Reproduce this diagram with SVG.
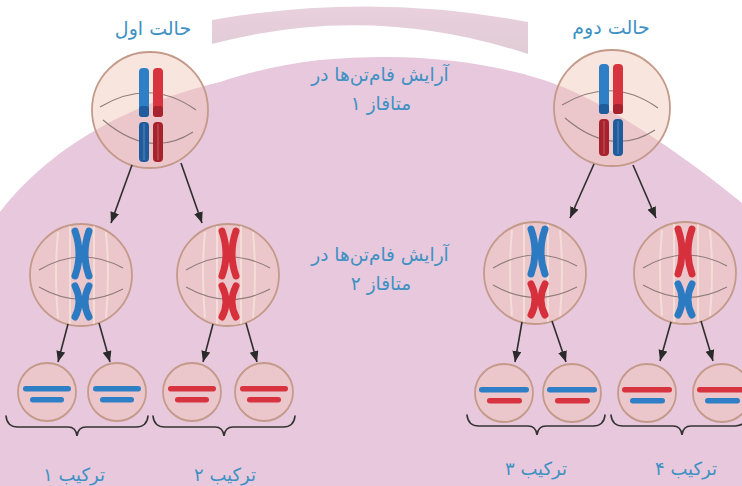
<svg xmlns="http://www.w3.org/2000/svg" width="742" height="486" viewBox="0 0 742 486">
  <style>
    .cell { fill: #f0c6b6; fill-opacity: 0.45; stroke: #c39a8a; stroke-width: 1.8; }
    .spindle { fill: none; stroke: #8f7b78; stroke-width: 1.1; }
    .fiber { fill: none; stroke: #fff6e6; stroke-opacity: 0.45; stroke-width: 2; }
    .conn { fill: none; stroke: #2e2e2e; stroke-width: 1.6; marker-end: url(#head); }
    .brace { fill: none; stroke: #333; stroke-width: 1.6; stroke-linecap: round; }
    .txt { font-family: "DejaVu Sans", "Noto Sans", sans-serif; fill: #3e91c3; text-anchor: middle; }
    .title { font-size: 19px; }
    .note { font-size: 18.5px; }
    .lab { font-size: 18px; }
    .b { fill: #2f7fc6; }
    .bd { fill: #1f5c9e; }
    .r { fill: #d8343f; }
    .rd { fill: #a8222e; }
    .xb { fill: none; stroke: #2c7ac2; stroke-width: 7; stroke-linecap: round; }
    .xr { fill: none; stroke: #d6303d; stroke-width: 7; stroke-linecap: round; }
    .hl { stroke: #ffffff; stroke-opacity: 0.35; stroke-width: 0.8; fill: none; }
  </style>
  <defs>
    <marker id="head" markerUnits="userSpaceOnUse" markerWidth="12" markerHeight="10" refX="11" refY="4.5" orient="auto">
      <path d="M0,0 L11,4.5 L0,9 Z" fill="#2a2a2a"/>
    </marker>
    <linearGradient id="band" x1="0" y1="0" x2="0" y2="1">
      <stop offset="0" stop-color="#e6cbd9"/>
      <stop offset="1" stop-color="#ddc6d1"/>
    </linearGradient>
  </defs>

  <!-- backdrop -->
  <rect width="742" height="486" fill="#ffffff"/>
  <path d="M0,212 C40,160 110,108 220,82 C280,62 330,57 385,57 C450,57 520,68 570,90 C620,112 690,160 742,203 L742,486 L0,486 Z" fill="#e8c8dc"/>
  <path d="M212,20 Q370,-8 528,22 L528,54 Q370,2 212,44 Z" fill="url(#band)" opacity="0.9"/>

  <!-- titles -->
  <text class="txt title" x="153" y="35">حالت اول</text>
  <text class="txt title" x="611" y="34">حالت دوم</text>

  <!-- stage notes -->
  <text class="txt note" x="380" y="81">آرایش فام‌تن‌ها در</text>
  <text class="txt note" x="381" y="110">متافاز ۱</text>
  <text class="txt note" x="380" y="261">آرایش فام‌تن‌ها در</text>
  <text class="txt note" x="381" y="290">متافاز ۲</text>

  <!-- metaphase I, case 1 -->
  <g id="m1-case1">
    <circle class="cell" cx="150" cy="110" r="58"/>
    <path class="spindle" d="M100,107 Q150,77 196,110"/>
    <path class="spindle" d="M103,120 Q150,160 193,132"/>
    <rect class="b" x="139" y="68" width="10" height="49" rx="4"/>
    <rect class="bd" x="139" y="106" width="10" height="11" rx="3"/>
    <rect class="r" x="153" y="68" width="10" height="49" rx="4"/>
    <rect class="rd" x="153" y="106" width="10" height="11" rx="3"/>
    <rect class="bd" x="139" y="122" width="10" height="40" rx="4"/>
    <rect class="rd" x="153" y="122" width="10" height="40" rx="4"/>
    <line class="hl" x1="144" y1="124" x2="144" y2="160"/>
    <line class="hl" x1="158" y1="124" x2="158" y2="160"/>
  </g>

  <!-- metaphase I, case 2 -->
  <g id="m1-case2">
    <circle class="cell" cx="612" cy="108" r="58"/>
    <path class="spindle" d="M562,105 Q612,75 658,108"/>
    <path class="spindle" d="M565,118 Q612,158 655,130"/>
    <rect class="b" x="599" y="64" width="10" height="50" rx="4"/>
    <rect class="bd" x="599" y="104" width="10" height="10" rx="3"/>
    <rect class="r" x="613" y="64" width="10" height="50" rx="4"/>
    <rect class="rd" x="613" y="104" width="10" height="10" rx="3"/>
    <rect class="rd" x="599" y="119" width="10" height="37" rx="4"/>
    <rect class="bd" x="613" y="119" width="10" height="37" rx="4"/>
    <line class="hl" x1="604" y1="121" x2="604" y2="154"/>
    <line class="hl" x1="618" y1="121" x2="618" y2="154"/>
  </g>

  <!-- metaphase II cells -->
  <g id="m2-a">
    <circle class="cell" cx="81" cy="275" r="51"/>
    <path class="fiber" d="M58,232 Q54,275 58,318 M70,226 V324 M94,226 V324 M106,232 Q110,275 106,318"/>
    <path class="spindle" d="M39,270 Q81,245 123,268"/>
    <path class="spindle" d="M39,287 Q81,311 123,289"/>
    <path class="xb" d="M75,231 Q83,254 75,276 M89,231 Q81,254 89,276"/>
    <path class="xb" d="M75,286 Q83,302 75,317 M89,286 Q81,302 89,317"/>
  </g>
  <g id="m2-b">
    <circle class="cell" cx="228" cy="275" r="51"/>
    <path class="fiber" d="M205,232 Q201,275 205,318 M217,226 V324 M241,226 V324 M253,232 Q257,275 253,318"/>
    <path class="spindle" d="M186,270 Q228,245 270,268"/>
    <path class="spindle" d="M186,287 Q228,311 270,289"/>
    <path class="xr" d="M222,231 Q230,254 222,276 M236,231 Q228,254 236,276"/>
    <path class="xr" d="M222,286 Q230,302 222,317 M236,286 Q228,302 236,317"/>
  </g>
  <g id="m2-c">
    <circle class="cell" cx="535" cy="273" r="51"/>
    <path class="fiber" d="M512,230 Q508,273 512,316 M524,224 V322 M548,224 V322 M560,230 Q564,273 560,316"/>
    <path class="spindle" d="M493,268 Q535,243 577,266"/>
    <path class="spindle" d="M493,285 Q535,309 577,287"/>
    <path class="xb" d="M531,229 Q539,252 531,274 M545,229 Q537,252 545,274"/>
    <path class="xr" d="M531,284 Q539,300 531,315 M545,284 Q537,300 545,315"/>
  </g>
  <g id="m2-d">
    <circle class="cell" cx="685" cy="273" r="51"/>
    <path class="fiber" d="M662,230 Q658,273 662,316 M674,224 V322 M698,224 V322 M710,230 Q714,273 710,316"/>
    <path class="spindle" d="M643,268 Q685,243 727,266"/>
    <path class="spindle" d="M643,285 Q685,309 727,287"/>
    <path class="xr" d="M678,229 Q686,252 678,274 M692,229 Q684,252 692,274"/>
    <path class="xb" d="M678,284 Q686,300 678,315 M692,284 Q684,300 692,315"/>
  </g>

  <!-- gametes -->
  <g id="g1">
    <circle class="cell" cx="47" cy="392" r="29"/>
    <rect class="b" x="23" y="386" width="48" height="5.5" rx="2.7"/>
    <rect class="b" x="30" y="397" width="34" height="5.5" rx="2.7"/>
  </g>
  <g id="g2">
    <circle class="cell" cx="117" cy="392" r="29"/>
    <rect class="b" x="93" y="386" width="48" height="5.5" rx="2.7"/>
    <rect class="b" x="100" y="397" width="34" height="5.5" rx="2.7"/>
  </g>
  <g id="g3">
    <circle class="cell" cx="192" cy="392" r="29"/>
    <rect class="r" x="168" y="386" width="48" height="5.5" rx="2.7"/>
    <rect class="r" x="175" y="397" width="34" height="5.5" rx="2.7"/>
  </g>
  <g id="g4">
    <circle class="cell" cx="264" cy="392" r="29"/>
    <rect class="r" x="240" y="386" width="48" height="5.5" rx="2.7"/>
    <rect class="r" x="247" y="397" width="34" height="5.5" rx="2.7"/>
  </g>
  <g id="g5">
    <circle class="cell" cx="504" cy="393" r="29"/>
    <rect class="b" x="479" y="387" width="50" height="5.5" rx="2.7"/>
    <rect class="r" x="487" y="398" width="35" height="5.5" rx="2.7"/>
  </g>
  <g id="g6">
    <circle class="cell" cx="572" cy="393" r="29"/>
    <rect class="b" x="547" y="387" width="50" height="5.5" rx="2.7"/>
    <rect class="r" x="555" y="398" width="35" height="5.5" rx="2.7"/>
  </g>
  <g id="g7">
    <circle class="cell" cx="647" cy="393" r="29"/>
    <rect class="r" x="622" y="387" width="50" height="5.5" rx="2.7"/>
    <rect class="b" x="630" y="398" width="35" height="5.5" rx="2.7"/>
  </g>
  <g id="g8">
    <circle class="cell" cx="722" cy="393" r="29"/>
    <rect class="r" x="697" y="387" width="50" height="5.5" rx="2.7"/>
    <rect class="b" x="705" y="398" width="35" height="5.5" rx="2.7"/>
  </g>

  <!-- connectors -->
  <g id="connectors">
    <line class="conn" x1="132" y1="165" x2="111" y2="223"/>
    <line class="conn" x1="181" y1="163" x2="202" y2="223"/>
    <line class="conn" x1="594" y1="164" x2="570" y2="218"/>
    <line class="conn" x1="633" y1="165" x2="656" y2="218"/>
    <line class="conn" x1="68" y1="324" x2="58" y2="362"/>
    <line class="conn" x1="99" y1="323" x2="110" y2="362"/>
    <line class="conn" x1="213" y1="324" x2="203" y2="362"/>
    <line class="conn" x1="246" y1="323" x2="257" y2="362"/>
    <line class="conn" x1="522" y1="322" x2="515" y2="362"/>
    <line class="conn" x1="552" y1="321" x2="566" y2="362"/>
    <line class="conn" x1="671" y1="322" x2="660" y2="361"/>
    <line class="conn" x1="701" y1="321" x2="713" y2="361"/>
  </g>

  <!-- braces and labels -->
  <g id="set1">
    <path class="brace" d="M6,416 Q7,427 18,427 L68,427 Q76,427 77,436 Q78,427 86,427 L136,427 Q147,427 148,416"/>
    <text class="txt lab" x="74" y="481">ترکیب ۱</text>
  </g>
  <g id="set2">
    <path class="brace" d="M153,416 Q154,427 165,427 L215,427 Q223,427 224,436 Q225,427 233,427 L283,427 Q294,427 295,416"/>
    <text class="txt lab" x="225" y="481">ترکیب ۲</text>
  </g>
  <g id="set3">
    <path class="brace" d="M467,415 Q468,426 479,426 L528,426 Q536,426 537,435 Q538,426 546,426 L593,426 Q604,426 605,415"/>
    <text class="txt lab" x="536" y="475">ترکیب ۳</text>
  </g>
  <g id="set4">
    <path class="brace" d="M611,415 Q612,426 623,426 L673,426 Q681,426 682,435 Q683,426 691,426 L735,426 Q746,426 747,415"/>
    <text class="txt lab" x="686" y="475">ترکیب ۴</text>
  </g>
</svg>
